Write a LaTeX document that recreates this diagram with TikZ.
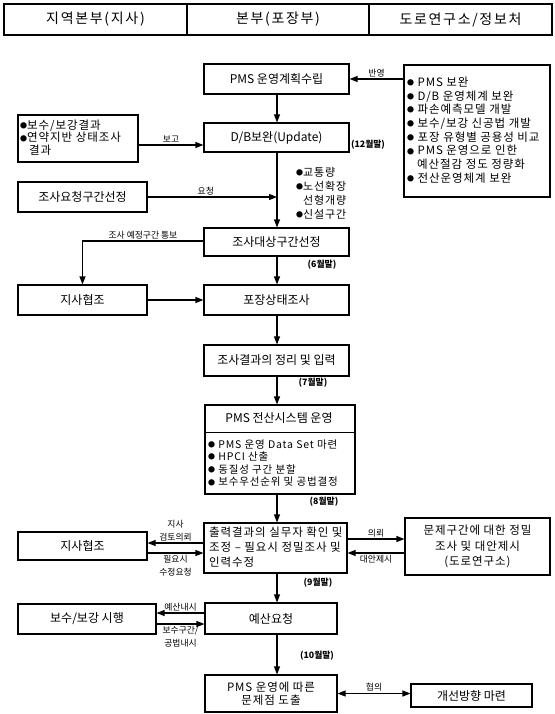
\documentclass[tikz,border=0pt]{standalone}
\usepackage{fontspec}
\setmainfont{Noto Sans CJK KR}
\newfontfamily\widef[LetterSpace=8]{Noto Sans CJK KR}
\newfontfamily\widerf[LetterSpace=12]{Noto Sans CJK KR}
\usetikzlibrary{arrows.meta,calc}
\newcommand{\bu}{\raisebox{0.8pt}{\fontsize{7}{7}\selectfont ●}}
\newcommand{\hdrf}{\widerf\fontsize{14}{16}\selectfont}
\newcommand{\boxf}{\fontsize{12}{14}\selectfont}
\newcommand{\lstf}{\widef\fontsize{11.5}{13.7}\selectfont}
\newcommand{\lblf}{\fontsize{8.8}{13}\selectfont}
\begin{document}
\begin{tikzpicture}[x=1pt,y=-1pt,
  box/.style={draw, line width=1.1pt, inner sep=0pt, align=center, font=\boxf},
  hdr/.style={draw, line width=1.4pt, inner sep=0pt, minimum height=31pt, font=\hdrf},
  arr/.style={line width=1.1pt, -{Triangle[length=8pt,width=6pt]}},
  darr/.style={line width=1.1pt, {Triangle[length=8pt,width=6pt]}-{Triangle[length=8pt,width=6pt]}},
  lbl/.style={font=\lblf, inner sep=1.5pt, align=center},
  mon/.style={font=\lblf\bfseries, inner sep=0pt},
  lst/.style={inner sep=0pt, align=left, font=\lstf}
]
\useasboundingbox (0,0) rectangle (554,714);
% header
\node[hdr, minimum width=183pt] (h1) at (95.5,19.5) {지역본부(지사)};
\node[hdr, minimum width=182pt] (h2) at (278,19.5) {본부(포장부)};
\node[hdr, minimum width=183pt] (h3) at (460.5,19.5) {도로연구소/정보처};
% boxes
\node[box, minimum width=145pt, minimum height=30pt] (plan) at (276.5,79) {PMS 운영계획수립};
\node[box, minimum width=145pt, minimum height=29pt] (db) at (276.5,137.5) {D/B보완(Update)};
\node[box, minimum width=120pt, minimum height=47pt] (rep) at (78,138.5) {};
\node[lst, anchor=west, font=\widef\fontsize{11.5}{12.5}\selectfont] (reptxt) at (20,137.5) {\bu{}보수/보강결과\\\bu{}연약지반 상태조사\\\hspace*{9pt}결과};
\node[box, minimum width=146pt, minimum height=132pt] (imp) at (477,131) {};
\node[lst, anchor=west] (imptxt) at (407,130) {\bu{} PMS 보완\\\bu{} D/B 운영체계 보완\\\bu{} 파손예측모델 개발\\\bu{} 보수/보강 신공법 개발\\\bu{} 포장 유형별 공용성 비교\\\bu{} PMS 운영으로 인한\\\hspace*{10pt}예산절감 정도 정량화\\\bu{} 전산운영체계 보완};
\node[box, minimum width=129pt, minimum height=30pt] (req) at (82.5,197) {조사요청구간선정};
\node[lst, anchor=north west, font=\widef\fontsize{11}{14}\selectfont] (items) at (296,167) {\bu{}교통량\\\bu{}노선확장\\\hspace*{7pt}선형개량\\\bu{}신설구간};
\node[box, minimum width=145pt, minimum height=28pt] (sel) at (276.5,242) {조사대상구간선정};
\node[box, minimum width=129pt, minimum height=30pt] (coop1) at (82.5,300) {지사협조};
\node[box, minimum width=145pt, minimum height=30pt] (surv) at (276.5,300) {포장상태조사};
\node[box, minimum width=145pt, minimum height=31pt] (org) at (276.5,360.5) {조사결과의 정리 및 입력};
\node[box, minimum width=150pt, minimum height=89pt] (pms) at (280,449.5) {};
\draw[line width=1.1pt] ($(pms.north west)+(0,28)$) -- ($(pms.north east)+(0,28)$);
\node[inner sep=0pt, font=\boxf] (pmst) at (279,418) {PMS 전산시스템 운영};
\node[lst, anchor=west, font=\widef\fontsize{10.5}{12.6}\selectfont] (pmsl) at (208,463) {\bu{} PMS 운영 Data Set 마련\\\bu{} HPCI 산출\\\bu{} 동질성 구간 분할\\\bu{} 보수우선순위 및 공법결정};
\node[box, minimum width=143pt, minimum height=50pt] (out) at (275.5,548) {};
\node[lst, anchor=west, font=\widef\fontsize{11.5}{15}\selectfont] (outt) at (209,547) {출력결과의 실무자 확인 및\\조정 – 필요시 정밀조사 및\\인력수정};
\node[box, minimum width=129pt, minimum height=28pt] (coop2) at (82.5,546) {지사협조};
\node[box, minimum width=145pt, minimum height=57pt, font=\widef\fontsize{11.5}{15.5}\selectfont] (road) at (477.5,546.5) {문제구간에 대한 정밀\\조사 및 대안제시\\(도로연구소)};
\node[box, minimum width=132pt, minimum height=31pt] (bud) at (271,618.5) {예산요청};
\node[box, minimum width=138pt, minimum height=30pt] (rep2) at (87,619) {보수/보강 시행};
\node[box, minimum width=132pt, minimum height=37pt, font=\widef\fontsize{11.5}{13}\selectfont] (prob) at (271,693.5) {PMS 운영에 따른\\문제점 도출};
\node[box, minimum width=121pt, minimum height=23pt] (imprv) at (471.5,695.5) {개선방향 마련};
% month labels
\node[mon] (m12) at (368,145) {(12월말)};
\node[mon] (m6) at (322,265) {(6월말)};
\node[mon] (m7) at (313,383) {(7월말)};
\node[mon] (m8) at (324,502) {(8월말)};
\node[mon] (m9) at (318,583) {(9월말)};
\node[mon] (m10) at (317,656) {(10월말)};
% connectors
\coordinate (colx) at (277,0);
\coordinate (y145) at (0,145);
\coordinate (y241) at (0,241);
\coordinate (y543) at (0,543);
\coordinate (y553) at (0,553);
\coordinate (y539) at (0,539);
\coordinate (y613) at (0,613);
\coordinate (y624) at (0,624);
\draw[arr] (colx |- plan.south) -- (colx |- db.north);
\draw[arr] (imp.west |- plan.east) -- node[lbl, above] {반영} (plan.east);
\draw[arr] (rep.east |- y145) -- node[lbl, above] {보고} (db.west |- y145);
\draw[arr] (colx |- db.south) -- (colx |- sel.north);
\draw[arr] (req.east) -- node[lbl, above, pos=0.45] {요청} (colx |- req.east);
\draw[arr] (sel.west |- y241) -| node[lbl, above, pos=0.25] {조사 예정구간 통보} (coop1.north);
\draw[arr] (colx |- sel.south) -- (colx |- surv.north);
\draw[arr] (coop1.east) -- (surv.west);
\draw[arr] (colx |- surv.south) -- (colx |- org.north);
\draw[arr] (colx |- org.south) -- (colx |- pms.north);
\draw[arr] (colx |- pms.south) -- (colx |- out.north);
\draw[arr] (out.west |- y543) -- node[lbl, above, font=\fontsize{8.8}{12.5}\selectfont] {지사\\검토의뢰} (coop2.east |- y543);
\draw[arr] (coop2.east |- y553) -- node[lbl, below, font=\fontsize{8.8}{13}\selectfont] {필요시\\수정요청} (out.west |- y553);
\draw[arr] (out.east |- y539) -- node[lbl, above] {의뢰} (road.west |- y539);
\draw[arr] (road.west |- y553) -- node[lbl, below] {대안제시} (out.east |- y553);
\draw[arr] (colx |- out.south) -- (colx |- bud.north);
\draw[arr] (bud.west |- y613) -- node[lbl, above] {예산내시} (rep2.east |- y613);
\draw[arr] (rep2.east |- y624) -- node[lbl, below, font=\fontsize{8.8}{13}\selectfont] {보수구간/\\공법내시} (bud.west |- y624);
\draw[arr] (colx |- bud.south) -- (colx |- prob.north);
\draw[darr] (prob.east) -- node[lbl, above] {협의} (prob.east -| imprv.west);
\end{tikzpicture}
\end{document}
